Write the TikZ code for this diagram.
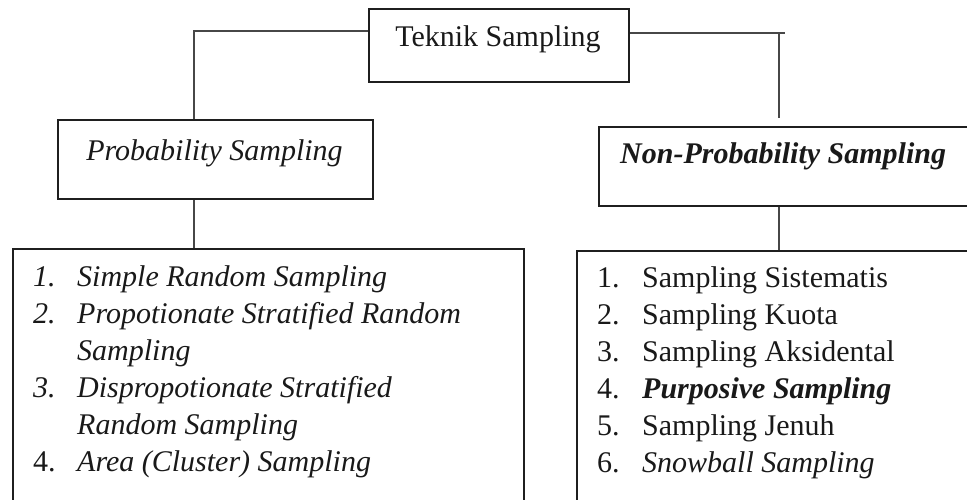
\documentclass[tikz,border=0pt]{standalone}
\usepackage{fontspec}
\setmainfont{Liberation Serif}
\begin{document}
\begin{tikzpicture}[x=1pt,y=-1pt,
  box/.style={draw=black!88, line width=2pt, inner sep=0pt, anchor=north west},
  link/.style={draw=black!72, line width=1.3pt},
  txt/.style={inner sep=0pt, anchor=base, text=black!90, font=\fontsize{30}{37}\selectfont},
  item/.style={inner sep=0pt, anchor=base west, text=black!90, font=\fontsize{30}{37}\selectfont}]
\useasboundingbox (0,0) rectangle (967,499);
\clip (0,0) rectangle (967,499);

% frames
\node[box, minimum width=260, minimum height=73] (top) at (368,8) {};
\node[box, minimum width=315, minimum height=79] (pb) at (57,119) {};
\node[box, minimum width=420, minimum height=79] (np) at (598,126) {};
\node[box, minimum width=511, minimum height=320] (lst) at (12,248) {};
\node[box, minimum width=420, minimum height=320] (rst) at (576,250) {};

% headings
\node[txt] (tT) at (498,46.7) {Teknik Sampling};
\node[txt] (tP) at (214.5,160) {\itshape Probability Sampling};
\node[txt, anchor=base west] (tN) at (620,163) {\bfseries\itshape Non-Probability Sampling};

% connectors
\coordinate (ljoin) at (194,31);
\coordinate (rjoin) at (779,33);
\draw[link] (top.west |- ljoin) -- (ljoin) -- (ljoin |- pb.north);
\draw[link] (top.east |- rjoin) -- ([xshift=6pt]rjoin);
\draw[link] (rjoin) -- ([yshift=8pt]np.north -| rjoin);
\draw[link] (pb.south -| ljoin) -- (ljoin |- lst.north);
\draw[link] (np.south -| rjoin) -- (rjoin |- rst.north);

% probability sampling techniques
\node[item] (l1n) at (33,286) {\itshape 1.};
\node[item] (l1) at (77,286) {\itshape Simple Random Sampling};
\node[item] (l2n) at (33,323) {\itshape 2.};
\node[item] (l2) at (77,323) {\itshape Propotionate Stratified Random};
\node[item] (l2b) at (77,360) {\itshape Sampling};
\node[item] (l3n) at (33,397) {\itshape 3.};
\node[item] (l3) at (77,397) {\itshape Dispropotionate Stratified};
\node[item] (l3b) at (77,434) {\itshape Random Sampling};
\node[item] (l4n) at (33,471) {4.};
\node[item] (l4) at (77,471) {\itshape Area (Cluster) Sampling};

% non-probability sampling techniques
\node[item] (r1n) at (597,287) {1.};
\node[item] (r1) at (642,287) {Sampling Sistematis};
\node[item] (r2n) at (597,324) {2.};
\node[item] (r2) at (642,324) {Sampling Kuota};
\node[item] (r3n) at (597,361) {3.};
\node[item] (r3) at (642,361) {Sampling Aksidental};
\node[item] (r4n) at (597,398) {4.};
\node[item] (r4) at (642,398) {\bfseries\itshape Purposive Sampling};
\node[item] (r5n) at (597,435) {5.};
\node[item] (r5) at (642,435) {Sampling Jenuh};
\node[item] (r6n) at (597,472) {6.};
\node[item] (r6) at (642,472) {\itshape Snowball Sampling};
\end{tikzpicture}
\end{document}
